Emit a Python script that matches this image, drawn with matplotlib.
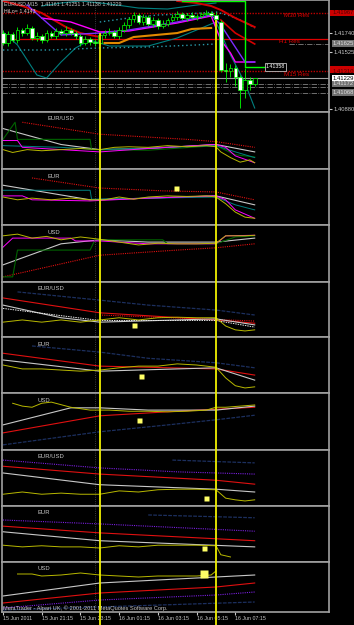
import matplotlib.pyplot as plt
from matplotlib.patches import Rectangle
from matplotlib.lines import Line2D
from matplotlib.transforms import blended_transform_factory

plt.rcParams['font.family'] = ['Liberation Sans', 'DejaVu Sans']

# ---------------- price chart, EURUSD M15 (bar 0 = 15 Jun 19:15)
opens = [1.41740, 1.41627, 1.41729, 1.41661, 1.41774, 1.41740, 1.41797, 1.41684, 1.41707, 1.41661,
         1.41740, 1.41707, 1.41763, 1.41740, 1.41774, 1.41740, 1.41707, 1.41627, 1.41673, 1.41639,
         1.41627, 1.41718, 1.41740, 1.41752, 1.41707, 1.41774, 1.41831, 1.41899, 1.41944, 1.41865,
         1.41922, 1.41842, 1.41888, 1.41820, 1.41842, 1.41888, 1.41922, 1.41956, 1.41910, 1.41944,
         1.41922, 1.41933, 1.41956, 1.41967, 1.41944, 1.41865, 1.41322, 1.41310, 1.41344, 1.41242,
         1.41095, 1.41208, 1.41163]
highs = [1.41774, 1.41763, 1.41752, 1.41810, 1.41797, 1.41842, 1.41820, 1.41752, 1.41729, 1.41774,
         1.41763, 1.41797, 1.41786, 1.41820, 1.41797, 1.41763, 1.41729, 1.41707, 1.41695, 1.41673,
         1.41740, 1.41774, 1.41797, 1.41774, 1.41810, 1.41865, 1.41922, 1.41978, 1.41967, 1.41956,
         1.41944, 1.41922, 1.41910, 1.41888, 1.41910, 1.41956, 1.41990, 1.41978, 1.41967, 1.41978,
         1.41956, 1.41978, 1.42000, 1.41990, 1.41978, 1.41888, 1.41401, 1.41390, 1.41378, 1.41265,
         1.41344, 1.41242, 1.41231]
lows = [1.41605, 1.41593, 1.41639, 1.41627, 1.41707, 1.41718, 1.41661, 1.41650, 1.41627, 1.41639,
        1.41684, 1.41673, 1.41718, 1.41707, 1.41718, 1.41673, 1.41593, 1.41605, 1.41605, 1.41593,
        1.41605, 1.41684, 1.41718, 1.41684, 1.41673, 1.41752, 1.41797, 1.41865, 1.41842, 1.41831,
        1.41820, 1.41810, 1.41786, 1.41797, 1.41820, 1.41865, 1.41888, 1.41888, 1.41876, 1.41899,
        1.41888, 1.41910, 1.41933, 1.41922, 1.41865, 1.41299, 1.41186, 1.41242, 1.41140, 1.40891,
        1.41000, 1.41095, 1.41140]
closes = [1.41627, 1.41729, 1.41661, 1.41774, 1.41740, 1.41797, 1.41684, 1.41707, 1.41661, 1.41740,
          1.41707, 1.41763, 1.41740, 1.41774, 1.41740, 1.41707, 1.41627, 1.41673, 1.41639, 1.41627,
          1.41718, 1.41740, 1.41752, 1.41707, 1.41774, 1.41831, 1.41899, 1.41944, 1.41865, 1.41922,
          1.41842, 1.41888, 1.41820, 1.41842, 1.41888, 1.41922, 1.41956, 1.41910, 1.41944, 1.41922,
          1.41933, 1.41956, 1.41967, 1.41944, 1.41899, 1.41322, 1.41310, 1.41344, 1.41242, 1.41095,
          1.41208, 1.41163, 1.41229]

# indicator lines on the price chart: (bars, prices)
bb_lower = ([0, 3, 7, 9, 12, 15, 18, 22, 30, 36, 40, 44, 47, 50, 52],
            [1.41752, 1.41605, 1.41265, 1.41231, 1.41412, 1.41571, 1.41661, 1.41593, 1.41593,
             1.41684, 1.41774, 1.41865, 1.41491, 1.41174, 1.40891])
bb_upper = ([8, 12, 16, 22, 28, 34, 40, 44], [1.42046, 1.42080, 1.42103, 1.42069, 1.42023, 1.42012, 1.42057, 1.42080])
env_upper = ([20, 26, 32, 38, 44, 47, 50, 52], [1.41865, 1.41910, 1.41944, 1.41956, 1.41978, 1.41933, 1.41865, 1.41797])
env_lower = ([0, 10, 20, 30, 40, 44], [1.41548, 1.41548, 1.41571, 1.41582, 1.41605, 1.41616])
ma_purple = ([5, 8, 12, 20, 26, 36, 43, 45, 50, 52],
             [1.42057, 1.41910, 1.41718, 1.41740, 1.41774, 1.41865, 1.41944, 1.41831, 1.41412, 1.41412])
ma_magenta = ([8, 11, 14, 20, 26, 36, 43, 45, 47, 48, 52],
              [1.41910, 1.41888, 1.41865, 1.41752, 1.41763, 1.41854, 1.41933, 1.41661, 1.41514, 1.41412, 1.41412])
ma_red1 = ([0, 4, 8, 13, 16, 20], [1.42103, 1.42046, 1.41967, 1.41808, 1.41740, 1.41695])
ma_red2 = ([36, 40, 43, 45, 48, 52], [1.42103, 1.42080, 1.42046, 1.42001, 1.41910, 1.41808])
ma_red3 = ([45, 48, 52], [1.41888, 1.41740, 1.41616])
ma_orange = ([21, 24, 27, 36, 39, 43], [1.41627, 1.41627, 1.41695, 1.41740, 1.41786, 1.41797])
hilo_step = ([37, 50, 50, 54], [1.42103, 1.42103, 1.41356, 1.41356])

res_m30, res_h1, res_m15 = 1.41967, 1.41673, 1.41310
bid = 1.41229
pivots = [1.41163, 1.41129, 1.41061]
right_ticks = [1.41740, 1.41525, 1.40880]
grey_boxes = [(1.41625, '1.41625'), (1.41172, '1.41172'), (1.41068, '1.41068')]
signal_bars = [20, 44]
signal_tops = [1.41740, 1.41888]

# ---------------- sub windows: (bars, value 0..100)
a_red = ([4, 20, 38, 44, 52], [82, 61, 52, 48, 38])
a_gray = ([0, 12, 20, 30, 44, 52], [71, 43, 34, 36, 43, 30])
a_green = ([0, 2.5, 3, 18, 18.3, 30, 44, 48, 52], [52, 82, 52, 52, 34, 33, 41, 25, 21])
a_teal = ([0, 12, 20, 44, 48, 52], [41, 38, 34, 41, 30, 20])
a_magenta = ([0, 3, 4, 12, 20, 30, 44, 46, 48, 52], [50, 50, 38, 34, 30, 36, 43, 38, 23, 11])
a_yellow = ([0, 2, 5, 8, 12, 16, 20, 23, 26, 30, 34, 38, 42, 44, 45, 47, 49, 51, 52],
            [34, 29, 34, 32, 34, 36, 34, 38, 39, 38, 41, 39, 41, 39, 30, 20, 12, 16, 11])

b_red = ([6, 20, 33, 44, 52], [84, 66, 61, 59, 45])
b_gray = ([0, 18, 30, 44, 52], [71, 45, 48, 52, 36])
b_teal = ([0, 18, 18.3, 44, 48, 52], [62, 62, 46, 50, 36, 27])
b_magenta = ([0, 4, 6, 18, 30, 44, 46, 48, 52], [52, 52, 45, 43, 48, 52, 45, 27, 12])
b_yellow = ([0, 3, 6, 10, 14, 18, 21, 24, 27, 30, 34, 38, 42, 44, 46, 48, 50, 52],
            [50, 45, 48, 45, 48, 45, 45, 50, 46, 50, 52, 51, 52, 50, 38, 23, 14, 12])
b_mark = ([35.7], [66])

c_red = ([0, 20, 36, 44, 52], [9, 47, 56, 60, 67])
c_gray = ([0, 12, 20, 30, 44, 52], [30, 67, 74, 70, 70, 77])
c_teal = ([0, 2, 3, 18, 19, 33, 34, 44, 48, 52], [9, 9, 56, 56, 74, 74, 67, 67, 79, 81])
c_magenta = ([0, 2, 14, 15, 20, 30, 44, 46, 52], [61, 77, 77, 72, 72, 67, 67, 81, 82])
c_yellow = ([0, 3, 6, 9, 12, 16, 20, 24, 28, 32, 36, 40, 44, 46, 50, 52],
            [81, 84, 77, 80, 74, 79, 75, 70, 65, 68, 67, 67, 68, 81, 81, 82])

d_navy = ([3, 20, 30, 44, 52], [82, 67, 58, 49, 40])
d_red = ([0, 20, 44, 52], [71, 44, 31, 25])
d_red_dot = ([20, 52], [40, 29])
d_gray = ([0, 12, 20, 44, 52], [58, 35, 27, 33, 22])
d_gray_dot = ([0, 20, 44, 52], [52, 30, 30, 18])
d_yellow = ([0, 4, 8, 12, 16, 20, 24, 28, 32, 36, 40, 44, 46, 48, 50, 52],
            [27, 31, 27, 31, 27, 31, 35, 31, 35, 36, 35, 35, 20, 13, 11, 13])
d_mark = ([27], [22])

e_navy = ([6, 20, 30, 44, 52], [84, 73, 62, 54, 45])
e_red = ([0, 20, 44, 52], [71, 48, 43, 32])
e_gray = ([0, 20, 44, 52], [59, 39, 45, 23])
e_yellow = ([0, 4, 8, 12, 16, 20, 24, 28, 32, 36, 40, 44, 46, 48, 50, 52],
            [50, 43, 43, 41, 39, 41, 45, 48, 48, 52, 50, 46, 27, 13, 9, 11])
e_mark = ([28.5], [30])

f_navy = ([0, 20, 34, 44, 52], [9, 32, 44, 53, 61])
f_red = ([0, 20, 36, 52], [30, 60, 68, 75])
f_gray = ([0, 14, 20, 30, 44, 52], [44, 74, 74, 70, 70, 77])
f_yellow = ([2, 4, 6, 8, 10, 14, 18, 22, 26, 30, 34, 38, 42, 44, 46, 52],
            [82, 77, 75, 82, 84, 75, 70, 70, 68, 68, 67, 68, 70, 75, 75, 79])
f_mark = ([28], [53])

g_purple = ([0, 20, 36, 52], [82, 68, 61, 57])
g_navy = ([35, 52], [82, 77])
g_red = ([0, 20, 44, 52], [71, 57, 46, 39])
g_gray = ([0, 20, 44, 52], [59, 38, 30, 25])
g_yellow = ([0, 4, 8, 12, 16, 20, 24, 28, 32, 36, 40, 44, 46, 48, 50, 52],
            [21, 25, 21, 23, 21, 21, 27, 25, 29, 30, 30, 29, 14, 11, 9, 11])
g_mark = ([42], [14])

h_purple = ([0, 20, 52], [75, 68, 55])
h_navy = ([30, 52], [84, 79])
h_red = ([0, 20, 52], [64, 52, 38])
h_gray = ([0, 20, 52], [54, 38, 27])
h_yellow = ([0, 4, 8, 12, 16, 20, 24, 28, 32, 36, 40, 44, 45, 47],
            [30, 27, 29, 27, 27, 25, 29, 27, 30, 30, 30, 29, 13, 9])
h_mark = ([41.5], [25])

i_navy = ([0, 52], [4, 20])
i_purple = ([0, 20, 44, 52], [8, 24, 34, 40])
i_red = ([0, 20, 44, 52], [18, 38, 50, 58])
i_gray = ([0, 20, 44, 52], [32, 58, 70, 74])
i_yellow = ([3, 6, 8, 12, 16, 20, 24, 28, 32, 36, 40, 43, 44],
            [76, 76, 72, 74, 78, 74, 72, 70, 72, 72, 72, 74, 82])
i_mark = ([41.5], [76])

time_bars = [0, 8, 16, 24, 32, 40, 48]
time_labels = ['15 Jun 2011', '15 Jun 21:15', '15 Jun 23:15', '16 Jun 01:15',
               '16 Jun 03:15', '16 Jun 05:15', '16 Jun 07:15']

# ---------------- styles
RED = dict(color='#e01010', lw=0.8)
REDDOT = dict(color='#e01010', lw=0.8, ls=(0, (1, 1)))
GRAY = dict(color='#c8c8c8', lw=0.8)
GRAYDOT = dict(color='#e8e8e8', lw=0.7, ls=(0, (1.5, 1)))
YEL = dict(color='#b8b800', lw=0.7)
MAG = dict(color='#ff00ff', lw=0.7)
TEAL = dict(color='#008080', lw=0.7)
GREEN = dict(color='#006400', lw=0.8)
NAVY = dict(color='#1c2f5e', lw=0.9, ls=(0, (3, 1)))
PURP = dict(color='#7a1fe0', lw=0.8, ls=(0, (1, 1)))
YELLOW = '#f0f000'
TXT = '#c8c8c8'

panels = [
    ('EUR/USD', 47, [(a_red, REDDOT), (a_gray, GRAY), (a_green, GREEN), (a_teal, TEAL),
                     (a_magenta, MAG), (a_yellow, YEL)], None),
    ('EUR', 47, [(b_red, REDDOT), (b_gray, GRAY), (b_teal, TEAL), (b_magenta, MAG),
                 (b_yellow, YEL)], b_mark),
    ('USD', 48, [(c_red, REDDOT), (c_gray, GRAY), (c_teal, GREEN), (c_magenta, MAG),
                 (c_yellow, YEL)], None),
    ('EUR/USD', 37, [(d_navy, NAVY), (d_red, RED), (d_red_dot, REDDOT), (d_gray, GRAY),
                     (d_gray_dot, GRAYDOT), (d_yellow, YEL)], d_mark),
    ('EUR', 38, [(e_navy, NAVY), (e_red, RED), (e_gray, GRAY), (e_yellow, YEL)], e_mark),
    ('USD', 38, [(f_navy, NAVY), (f_red, RED), (f_gray, GRAY), (f_yellow, YEL)], f_mark),
    ('EUR/USD', 38, [(g_purple, PURP), (g_navy, NAVY), (g_red, RED), (g_gray, GRAY),
                     (g_yellow, YEL)], g_mark),
    ('EUR', 38, [(h_purple, PURP), (h_navy, NAVY), (h_red, RED), (h_gray, GRAY),
                 (h_yellow, YEL)], h_mark),
    ('USD', 37, [(i_navy, NAVY), (i_purple, PURP), (i_red, RED), (i_gray, GRAY),
                 (i_yellow, YEL)], i_mark),
]

W, H = 354, 625
X0, X1 = 2, 329
edges = [0, 112, 169, 225, 282, 337, 393, 450, 506, 562, 612]
XLIM = (-0.2, 67.35)

fig = plt.figure(figsize=(W / 100, H / 100), dpi=100, facecolor='black')


def panel(top, bot):
    ax = fig.add_axes([X0 / W, 1 - bot / H, (X1 - X0) / W, (bot - top) / H])
    ax.set_facecolor('black')
    ax.set_xlim(*XLIM)
    ax.set_xticks([])
    ax.set_yticks([])
    for s in ax.spines.values():
        s.set_color('#a0a0a0')
        s.set_linewidth(1.2)
    return ax


# ---------------- main price window
ax = panel(edges[0], edges[1])
ax.set_ylim(1.40846, 1.42114)
ax.axvline(19, color='#505050', ls=':', lw=0.6)

ax.axhline(res_m30, color='#c00000', lw=1.0, ls=(0, (1, 1)))
ax.axhline(res_h1, color='#e00000', lw=0.9)
ax.axhline(res_m15, color='#c00000', lw=1.0, ls=(0, (1, 1)))
ax.axhline(bid, color='#a0a0a0', lw=0.8)
for p in pivots:
    ax.axhline(p, color='#808080', lw=0.6, ls='-.')
ax.plot([59, 68], [1.41616, 1.41616], color='#808080', lw=0.6, ls='-.')

ax.plot(*bb_lower, color='#008080', lw=0.8)
ax.plot(*bb_upper, color='#008080', lw=0.8)
ax.plot(*env_upper, color='#2a9aaa', lw=1.0, ls=(0, (1, 2)))
ax.plot(*env_lower, color='#2a9aaa', lw=1.0, ls=(0, (1, 2)))
ax.plot(*ma_red1, color='#d40000', lw=1.4)
ax.plot(*ma_red2, color='#d40000', lw=1.4)
ax.plot(*ma_red3, color='#d40000', lw=1.2)
ax.plot(*ma_orange, color='#e08a00', lw=1.5)
ax.plot(*ma_magenta, color='#ff00ff', lw=1.0)
ax.plot(*ma_purple, color='#7b2cff', lw=1.0)
ax.plot(*hilo_step, color='#00ff00', lw=1.0)

bars = list(range(len(closes)))
ax.vlines(bars, lows, highs, color='#00ff00', lw=0.6, zorder=3)
fills = ['white' if c < o else 'black' for o, c in zip(opens, closes)]
ax.bar(bars, [c - o for o, c in zip(opens, closes)], bottom=opens, width=0.75,
       color=fills, edgecolor='#00ff00', linewidth=0.5, zorder=4)

ax.vlines(signal_bars, 1.40846, signal_tops, color=YELLOW, lw=1.3, zorder=5)

ax.text(54.3, 1.41356, '1.41358', color='white', fontsize=3.8, va='center',
        bbox=dict(fc='black', ec='#c0c0c0', lw=0.6, pad=0.8))
ax.text(58, 1.41944, 'M30 Res', color='#e00000', fontsize=4.5, va='center')
ax.text(57, 1.41639, 'H1 Res', color='#e00000', fontsize=4.5, va='center')
ax.text(58, 1.41276, 'M15 Res', color='#e00000', fontsize=4.5, va='center')
ax.text(0.006, 0.965, 'EURUSD,M15  1.41161 1.41251 1.41138 1.41229', transform=ax.transAxes,
        color=TXT, fontsize=3.8, va='center')
ax.text(0.006, 0.895, 'HiLo= 1.4143', transform=ax.transAxes, color='#f0d0d0',
        fontsize=3.8, va='center')

ax.yaxis.tick_right()
ax.set_yticks(right_ticks)
ax.set_yticklabels([f'{v:.5f}' for v in right_ticks])
ax.tick_params(axis='y', colors=TXT, labelsize=4.2, length=2, pad=1)

yt = ax.get_yaxis_transform()
for lo, hi in [(1.41933, 1.42001), (1.41288, 1.41367)]:
    ax.add_patch(Rectangle((1.003, lo), 0.076, hi - lo, transform=yt, clip_on=False,
                           fc='#cc0000', ec='none'))
ax.text(1.012, res_m30, '1.41967', transform=yt, color='#500000', fontsize=4.2, va='center')
ax.text(1.012, res_m15, '1.41310', transform=yt, color='#500000', fontsize=4.2, va='center')
for v, s in grey_boxes:
    ax.text(1.012, v, s, transform=yt, color='#e0e0e0', fontsize=4.2, va='center',
            bbox=dict(fc='#707070', ec='none', pad=0.6))
ax.text(1.012, bid, '1.41229', transform=yt, color='black', fontsize=4.2, va='center',
        bbox=dict(fc='white', ec='none', pad=0.6))
ax_main = ax

# ---------------- indicator sub windows
for k, (label, lx, series, mark) in enumerate(panels):
    top, bot = edges[k + 1], edges[k + 2]
    ax = panel(top, bot)
    ax.set_ylim(0, 100)
    ax.axvline(19, color='#505050', ls=':', lw=0.6)
    for (xs, ys), st in series:
        ax.plot(xs, ys, **st)
    if mark is not None:
        ax.plot(*mark, 's', color='#ffff66', ms=5.5 if k == 8 else 3.6, mec='none', zorder=5)
    ax.text((lx - X0) / (X1 - X0), 1 - 7 / (bot - top), label, transform=ax.transAxes,
            color=TXT, fontsize=4.2, va='center')

ax.text(0.003, 0.07, 'MetaTrader - Alpari UK, \u00a9 2001-2011 MetaQuotes Software Corp.',
        transform=ax.transAxes, color=TXT, fontsize=4.1, va='center')
ax.set_xticks(time_bars)
ax.set_xticklabels(time_labels, ha='left')
ax.tick_params(axis='x', colors=TXT, labelsize=3.8, length=2, pad=1)

# signal lines run down through every sub window
trans = blended_transform_factory(ax_main.transData, fig.transFigure)
for b in signal_bars:
    fig.add_artist(Line2D([b, b], [0, 1 - edges[1] / H], transform=trans, color=YELLOW, lw=1.3))

fig.savefig('out.png', dpi=100, facecolor='black')
